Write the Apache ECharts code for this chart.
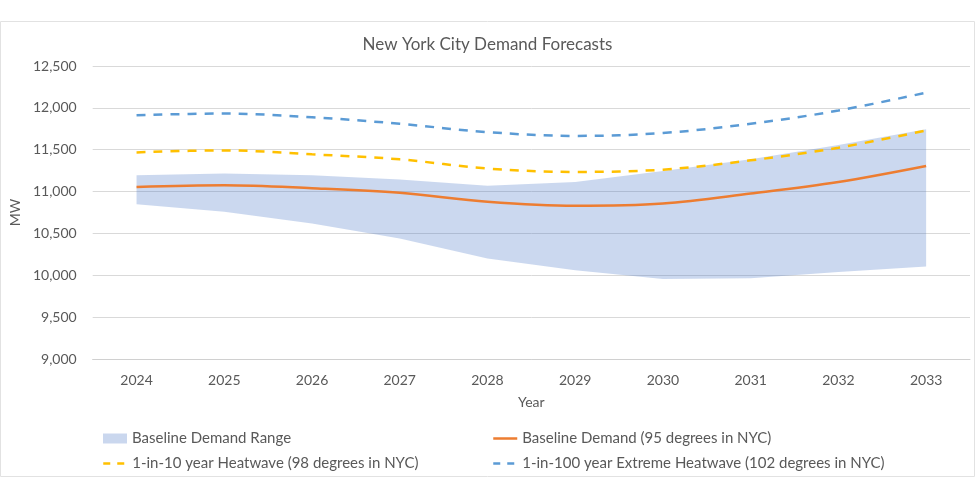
<!DOCTYPE html>
<html>
<head>
<meta charset="utf-8">
<script src="https://cdn.jsdelivr.net/npm/echarts@6/dist/echarts.min.js"></script>
<style>html,body{margin:0;padding:0;background:#fff}#c{width:975px;height:480px}</style>
</head>
<body>
<div id="c"></div>
<script>
const years = ['2024','2025','2026','2027','2028','2029','2030','2031','2032','2033'];
const rangeLow  = [10850, 10760, 10620, 10440, 10200, 10060, 9955, 9965, 10040, 10105];
const rangeHigh = [11195, 11215, 11195, 11145, 11070, 11115, 11245, 11385, 11555, 11745];
const baseline  = [11055, 11075, 11040, 10985, 10878, 10830, 10857, 10976, 11114, 11305];
const heat10    = [11468, 11492, 11445, 11385, 11275, 11235, 11262, 11373, 11524, 11730];
const heat100   = [11912, 11932, 11888, 11810, 11710, 11665, 11700, 11810, 11968, 12182];
const yTicks = {min: 9000, max: 12500, step: 500};

const NAMES = {
  range: 'Baseline Demand Range',
  base: 'Baseline Demand (95 degrees in NYC)',
  h10: '1-in-10 year Heatwave (98 degrees in NYC)',
  h100: '1-in-100 year Extreme Heatwave (102 degrees in NYC)'
};
const FONT = 'Lato';
const TXT = '#595959';
const bandFill = 'rgba(68,114,196,0.28)';

const chart = echarts.init(document.getElementById('c'), null, {renderer: 'canvas'});
const legendBase = {
  orient: 'horizontal', itemWidth: 24, itemHeight: 10, itemGap: 0, padding: 0,
  textStyle: {color: TXT, fontFamily: FONT, fontSize: 15},
  selectedMode: false
};
chart.setOption({
  backgroundColor: '#fff',
  animation: false,
  graphic: [{
    type: 'rect', shape: {x: 0.5, y: 21.5, width: 974, height: 455},
    style: {fill: 'none', stroke: '#e2e2e2', lineWidth: 1}, silent: true, z: -1
  }],
  title: {
    text: 'New York City Demand Forecasts', left: 'center', top: 31,
    textStyle: {color: TXT, fontFamily: FONT, fontSize: 17, fontWeight: 'normal'}
  },
  legend: [
    Object.assign({}, legendBase, {left: 103, top: 431,
      data: [{name: NAMES.range, icon: 'rect', itemStyle: {color: '#cad7ee', opacity: 1}}]}),
    Object.assign({}, legendBase, {left: 492, top: 431,
      data: [{name: NAMES.base, itemStyle: {opacity: 0}, lineStyle: {width: 2.5}}]}),
    Object.assign({}, legendBase, {left: 102, top: 456,
      data: [{name: NAMES.h10, itemStyle: {opacity: 0}, lineStyle: {type: [7, 7], width: 2.5}}]}),
    Object.assign({}, legendBase, {left: 492, top: 456,
      data: [{name: NAMES.h100, itemStyle: {opacity: 0}, lineStyle: {type: [7, 7], width: 2.5}}]})
  ],
  grid: {left: 92, right: 5, top: 66, bottom: 121, containLabel: false},
  xAxis: {
    type: 'category', data: years, boundaryGap: true,
    name: 'Year', nameLocation: 'middle', nameGap: 36,
    nameTextStyle: {color: TXT, fontFamily: FONT, fontSize: 14},
    axisLine: {show: true, lineStyle: {color: '#d0d0d0', width: 1}},
    axisTick: {show: false},
    axisLabel: {color: TXT, fontFamily: FONT, fontSize: 14, margin: 14}
  },
  yAxis: {
    type: 'value', min: yTicks.min, max: yTicks.max, interval: yTicks.step,
    name: 'MW', nameLocation: 'middle', nameGap: 68, nameRotate: 90,
    nameTextStyle: {color: TXT, fontFamily: FONT, fontSize: 14},
    axisLine: {show: false}, axisTick: {show: false},
    splitLine: {lineStyle: {color: '#d9d9d9', width: 1}},
    axisLabel: {color: TXT, fontFamily: FONT, fontSize: 14, margin: 16,
      formatter: v => v.toLocaleString('en-US')}
  },
  series: [
    {
      name: '__low', type: 'line', stack: 'band', data: rangeLow,
      symbol: 'none', lineStyle: {opacity: 0}, silent: true, z: 1
    },
    {
      name: NAMES.range, type: 'line', stack: 'band',
      data: rangeHigh.map((v, i) => v - rangeLow[i]),
      symbol: 'none', lineStyle: {opacity: 0}, itemStyle: {color: '#cad7ee'},
      areaStyle: {color: bandFill, opacity: 1}, silent: true, z: 1
    },
    {
      name: NAMES.base, type: 'line', data: baseline, smooth: 0.35,
      symbol: 'none', itemStyle: {color: '#ED7D31'},
      lineStyle: {color: '#ED7D31', width: 2.5}, z: 3
    },
    {
      name: NAMES.h10, type: 'line', data: heat10, smooth: 0.35,
      symbol: 'none', itemStyle: {color: '#FFC000'},
      lineStyle: {color: '#FFC000', width: 2.5, type: [9, 8]}, z: 3
    },
    {
      name: NAMES.h100, type: 'line', data: heat100, smooth: 0.35,
      symbol: 'none', itemStyle: {color: '#5B9BD5'},
      lineStyle: {color: '#5B9BD5', width: 2.5, type: [9, 8]}, z: 3
    }
  ]
});
</script>
</body>
</html>
